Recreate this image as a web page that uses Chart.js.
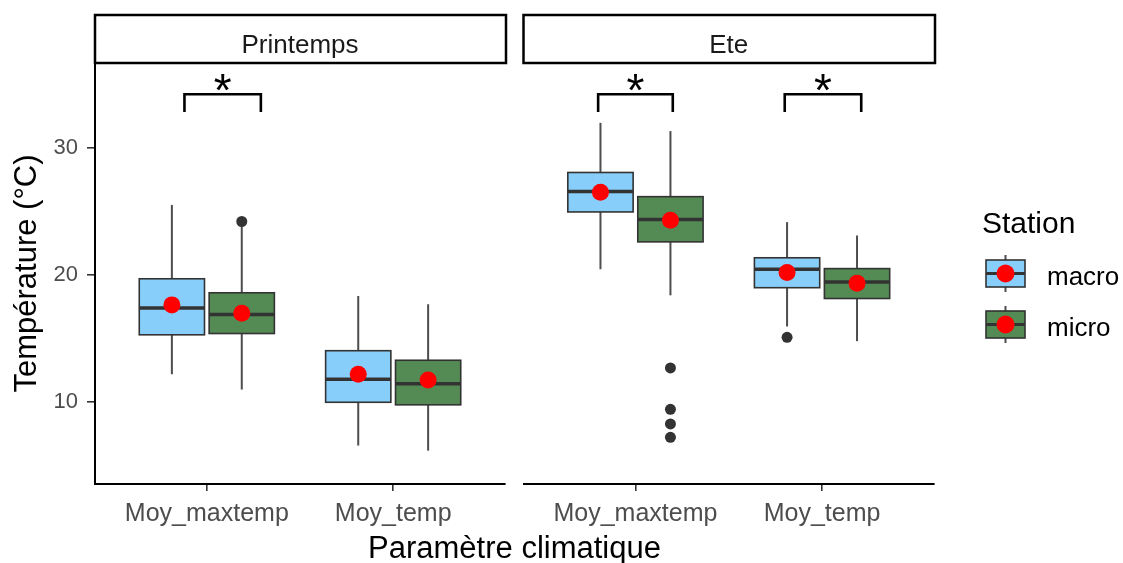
<!DOCTYPE html>
<html>
<head>
<meta charset="utf-8">
<script src="https://cdn.jsdelivr.net/npm/chart.js@4.4.1/dist/chart.umd.min.js"></script>
<style>
    body { margin: 0; background: #fff; }
    #wrap { position: relative; width: 1123px; height: 563px; overflow: hidden; font-family: 'Liberation Sans', Arial, sans-serif; }
    canvas { position: absolute; top: 0; }
    #xTitle { position: absolute; left: 0; width: 1029px; top: 532px; text-align: center; font-size: 31px; line-height: 31px; color: #000; }
</style>
</head>
<body>
<div id="wrap">
    <canvas id="panelA" width="515" height="563" style="left:0"></canvas>
    <canvas id="panelB" width="608" height="563" style="left:515px"></canvas>
    <div id="xTitle">Paramètre climatique</div>
</div>
<script>
// ===== data =====
const categories = ['Moy_maxtemp', 'Moy_temp'];
const seasons = ['Printemps', 'Ete'];
const stations = ['macro', 'micro'];
const yTicks = [10, 20, 30];

// [lower whisker, Q1, median, Q3, upper whisker] per category
const printempsMacro = [[12.2, 15.3, 17.4, 19.7, 25.5], [6.6, 10.0, 11.8, 14.05, 18.35]];
const printempsMicro = [[11.0, 15.4, 16.9, 18.6, 23.8], [6.2, 9.8, 11.45, 13.3, 17.7]];
const eteMacro = [[20.45, 24.95, 26.55, 28.05, 31.95], [15.95, 19.0, 20.45, 21.35, 24.15]];
const eteMicro = [[18.4, 22.6, 24.35, 26.15, 31.3], [14.8, 18.15, 19.45, 20.5, 23.1]];

// means (red dots)
const printempsMacroMean = [17.65, 12.2];
const printempsMicroMean = [17.0, 11.75];
const eteMacroMean = [26.5, 20.2];
const eteMicroMean = [24.3, 19.35];

// outliers
const printempsMacroOut = [[], []];
const printempsMicroOut = [[24.2], []];
const eteMacroOut = [[], [15.1]];
const eteMicroOut = [[12.7, 9.45, 8.3, 7.25], []];

// significance brackets [x start, x end] and their levels
const printempsSignif = [[0.88, 1.29]];
const eteSignif = [[0.80, 1.20], [1.80, 2.21]];
const signifLegY = 32.8;
const signifBarY = 34.2;
const signifStarY = 35.3;
const signifLabel = '*';

const yMin = 3.58;
const yMax = 36.65;

// ===== styles =====
const FONT = "'Liberation Sans', Arial, sans-serif";
const fills = ['#87CEFA', '#548B54'];
const dodge = [-0.1875, 0.1875];
const boxHalf = 0.175;
const edgeColor = '#333333';
const whiskerColor = '#4d4d4d';

Chart.defaults.font.family = FONT;

const panels = [
    { season: seasons[0], stats: [printempsMacro, printempsMicro], means: [printempsMacroMean, printempsMicroMean],
      outliers: [printempsMacroOut, printempsMicroOut], signif: printempsSignif, showY: true, legend: false },
    { season: seasons[1], stats: [eteMacro, eteMicro], means: [eteMacroMean, eteMicroMean],
      outliers: [eteMacroOut, eteMicroOut], signif: eteSignif, showY: false, legend: true }
];

function line(ctx, x1, y1, x2, y2) {
    ctx.beginPath();
    ctx.moveTo(x1, y1);
    ctx.lineTo(x2, y2);
    ctx.stroke();
}

function drawKeyGlyph(ctx, left, top, w, h, fill) {
    const cx = left + w / 2;
    ctx.strokeStyle = whiskerColor;
    ctx.lineWidth = 2;
    line(ctx, cx, top - 5, cx, top);
    line(ctx, cx, top + h, cx, top + h + 5);
    ctx.fillStyle = fill;
    ctx.fillRect(left, top, w, h);
    ctx.strokeStyle = edgeColor;
    ctx.lineWidth = 1.6;
    ctx.strokeRect(left, top, w, h);
    ctx.lineWidth = 3;
    line(ctx, left, top + h / 2, left + w, top + h / 2);
    ctx.fillStyle = '#FF0000';
    ctx.beginPath();
    ctx.arc(cx, top + h / 2, 9, 0, Math.PI * 2);
    ctx.fill();
}

/**
 * Boxes, brackets, strip and legend for one facet
 */
function panelPlugin(panel) {
    return {
        id: 'boxPanel',
        beforeDatasetsDraw(chart) {
            const { ctx, scales: { x, y } } = chart;
            ctx.save();
            panel.stats.forEach((stationStats, s) => {
                stationStats.forEach((st, i) => {
                    const xc = i + 1 + dodge[s];
                    const px = x.getPixelForValue(xc);
                    const left = x.getPixelForValue(xc - boxHalf);
                    const right = x.getPixelForValue(xc + boxHalf);
                    const [lo, q1, med, q3, hi] = st.map(v => y.getPixelForValue(v));
                    ctx.strokeStyle = whiskerColor;
                    ctx.lineWidth = 2;
                    line(ctx, px, lo, px, q1);
                    line(ctx, px, q3, px, hi);
                    ctx.fillStyle = fills[s];
                    ctx.fillRect(left, q3, right - left, q1 - q3);
                    ctx.strokeStyle = edgeColor;
                    ctx.lineWidth = 1.6;
                    ctx.strokeRect(left, q3, right - left, q1 - q3);
                    ctx.lineWidth = 3.5;
                    line(ctx, left, med, right, med);
                });
            });
            ctx.restore();
        },
        afterDatasetsDraw(chart) {
            const { ctx, scales: { x, y } } = chart;
            ctx.save();
            ctx.strokeStyle = '#000';
            ctx.lineWidth = 2.6;
            ctx.fillStyle = '#000';
            ctx.font = '46px ' + FONT;
            ctx.textAlign = 'center';
            ctx.textBaseline = 'alphabetic';
            panel.signif.forEach(([a, b]) => {
                const x1 = x.getPixelForValue(a), x2 = x.getPixelForValue(b);
                const yl = y.getPixelForValue(signifLegY), yb = y.getPixelForValue(signifBarY);
                ctx.beginPath();
                ctx.moveTo(x1, yl);
                ctx.lineTo(x1, yb);
                ctx.lineTo(x2, yb);
                ctx.lineTo(x2, yl);
                ctx.stroke();
                ctx.fillText(signifLabel, (x1 + x2) / 2, y.getPixelForValue(signifStarY) + 26);
            });
            ctx.restore();
        },
        afterDraw(chart) {
            const { ctx, chartArea } = chart;
            ctx.save();
            // facet strip
            ctx.fillStyle = '#fff';
            ctx.fillRect(chartArea.left, 15, chartArea.right - chartArea.left + 1, 48);
            ctx.strokeStyle = '#000';
            ctx.lineWidth = 2.5;
            ctx.strokeRect(chartArea.left, 15, chartArea.right - chartArea.left + 1, 48);
            ctx.fillStyle = '#1a1a1a';
            ctx.font = '26px ' + FONT;
            ctx.textAlign = 'center';
            ctx.textBaseline = 'alphabetic';
            ctx.fillText(panel.season, (chartArea.left + chartArea.right) / 2, 53);

            if (panel.legend) {
                const lx = chartArea.right + 52;
                ctx.textAlign = 'left';
                ctx.fillStyle = '#000';
                ctx.font = '30px ' + FONT;
                ctx.fillText('Station', lx - 4, 233);
                ctx.font = '26px ' + FONT;
                stations.forEach((name, s) => {
                    const top = 260 + s * 51;
                    drawKeyGlyph(ctx, lx, top, 39, 27, fills[s]);
                    ctx.fillStyle = '#000';
                    ctx.fillText(name, lx + 61, top + 25);
                });
            }
            ctx.restore();
        }
    };
}

function pointDatasets(panel) {
    const means = [], outs = [];
    panel.means.forEach((arr, s) => {
        arr.forEach((v, i) => means.push({ x: i + 1 + dodge[s], y: v }));
    });
    panel.outliers.forEach((arr, s) => {
        arr.forEach((list, i) => list.forEach(v => outs.push({ x: i + 1 + dodge[s], y: v })));
    });
    return [
        { label: 'mean', data: means, backgroundColor: '#FF0000', borderWidth: 0, pointRadius: 8.5 },
        { label: 'outliers', data: outs, backgroundColor: '#333333', borderWidth: 0, pointRadius: 5.5 }
    ];
}

function buildPanel(canvasId, panel, padding) {
    const tickFont = { family: FONT, size: 25 };
    new Chart(document.getElementById(canvasId).getContext('2d'), {
        type: 'scatter',
        data: { datasets: pointDatasets(panel) },
        options: {
            responsive: false,
            animation: false,
            events: [],
            layout: { padding: padding },
            plugins: { legend: { display: false }, tooltip: { enabled: false } },
            scales: {
                x: {
                    type: 'linear',
                    min: 0.4,
                    max: 2.6,
                    afterBuildTicks: scale => { scale.ticks = categories.map((c, i) => ({ value: i + 1 })); },
                    afterFit: scale => { scale.height = 79; },
                    ticks: {
                        callback: v => categories[Math.round(v) - 1],
                        font: tickFont,
                        color: '#4d4d4d',
                        padding: 8,
                        maxRotation: 0,
                        autoSkip: false
                    },
                    grid: { drawOnChartArea: false, tickLength: 7, color: edgeColor, lineWidth: 1.6 },
                    border: { color: '#000', width: 2 }
                },
                y: {
                    type: 'linear',
                    display: panel.showY,
                    min: yMin,
                    max: yMax,
                    afterBuildTicks: scale => { scale.ticks = yTicks.map(v => ({ value: v })); },
                    afterFit: scale => { scale.width = panel.showY ? 95 : 0; },
                    ticks: { font: { family: FONT, size: 22 }, color: '#4d4d4d', padding: 9 },
                    grid: { drawOnChartArea: false, tickLength: 8, color: edgeColor, lineWidth: 1.6 },
                    border: { color: '#000', width: 2 },
                    title: { display: true, text: 'Température (°C)', color: '#000', font: { family: FONT, size: 31 }, padding: { top: 9, bottom: 0 } }
                }
            }
        },
        plugins: [panelPlugin(panel)]
    });
}

buildPanel('panelA', panels[0], { top: 63, right: 10, bottom: 0, left: 0 });
buildPanel('panelB', panels[1], { top: 63, right: 189, bottom: 0, left: 6 });
</script>
</body>
</html>
